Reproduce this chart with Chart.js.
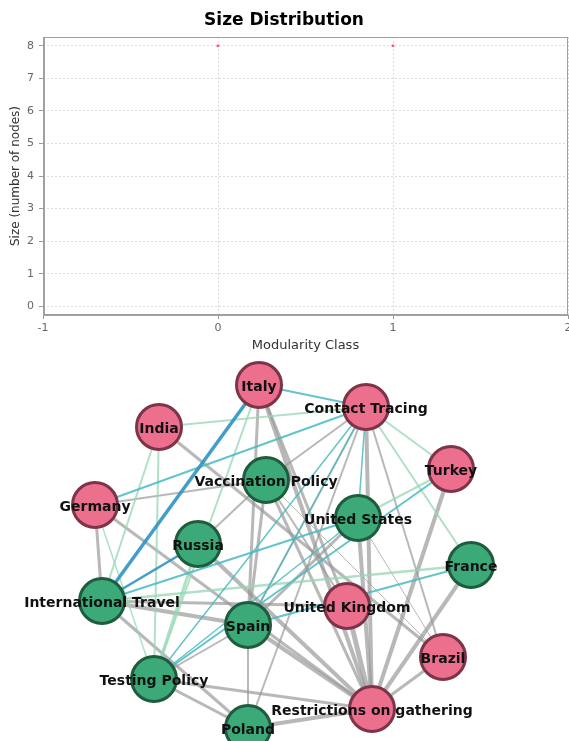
<!DOCTYPE html>
<html>
<head>
<meta charset="utf-8">
<script src="https://cdn.jsdelivr.net/npm/chart.js@4.4.1/dist/chart.umd.min.js"></script>
<style>
  html, body { margin: 0; padding: 0; background: #fff; overflow: hidden; }
  #wrap { position: relative; width: 569px; height: 741px; overflow: hidden; }
  #sizeChart { position: absolute; left: 0; top: 0; }
  #netChart { position: absolute; left: 0; top: 356px; }
</style>
</head>
<body>
<div id="wrap">
  <canvas id="sizeChart" width="600" height="356"></canvas>
  <canvas id="netChart" width="569" height="385"></canvas>
</div>
<script>
// --- size distribution data ---
const modularityClass = [0, 1];
const classSize = [8, 8];
const xTicks = [-1, 0, 1, 2];
const yTicks = [0, 1, 2, 3, 4, 5, 6, 7, 8];

// --- network data (layout coordinates) ---
const nodeNames = ["Italy", "Contact Tracing", "India", "Turkey", "Germany", "Vaccination Policy",
  "United States", "Russia", "France", "International Travel", "Spain", "United Kingdom",
  "Brazil", "Testing Policy", "Poland", "Restrictions on gathering"];
const nodeX = [259, 366, 159, 451, 95, 266, 358, 198, 471, 102, 248, 347, 443, 154, 248, 372];
const nodeY = [385, 407, 427, 469, 505, 480, 518, 544, 565, 601, 625, 606, 657, 679, 728, 709];
const nodeGroup = ["A", "A", "A", "A", "A", "B", "B", "B", "B", "B", "B", "A", "A", "B", "B", "A"];

const edgeSource = [
  "Italy", "Russia", "Italy", "Germany", "International Travel", "Spain", "Turkey",
  "Contact Tracing", "Contact Tracing", "Contact Tracing", "Testing Policy",
  "India", "India", "India", "Italy", "Germany", "Turkey", "Contact Tracing", "Contact Tracing",
  "International Travel", "Russia",
  "Italy", "Italy", "India", "Germany", "Germany", "Germany", "Vaccination Policy", "Vaccination Policy",
  "Vaccination Policy", "Vaccination Policy", "Vaccination Policy", "International Travel",
  "International Travel", "International Travel", "Russia", "Spain", "Spain", "Spain", "Spain",
  "Testing Policy", "Poland", "Contact Tracing", "Contact Tracing", "United States", "United States",
  "United Kingdom", "Turkey", "France", "Brazil", "Contact Tracing", "Vaccination Policy", "Italy",
  "United States", "Testing Policy"];
const edgeTarget = [
  "International Travel", "International Travel", "Contact Tracing", "Contact Tracing", "United States", "France", "Testing Policy",
  "United States", "Spain", "Testing Policy", "United States",
  "Contact Tracing", "International Travel", "Testing Policy", "Testing Policy", "Testing Policy", "United States", "France", "Turkey",
  "France", "Testing Policy",
  "Spain", "Restrictions on gathering", "Brazil", "International Travel", "Vaccination Policy", "Restrictions on gathering", "Spain", "Contact Tracing",
  "Russia", "Restrictions on gathering", "Brazil", "Spain",
  "United Kingdom", "Poland", "Restrictions on gathering", "Restrictions on gathering", "Poland", "Testing Policy", "Contact Tracing",
  "Restrictions on gathering", "Restrictions on gathering", "Restrictions on gathering", "Poland", "Restrictions on gathering", "Spain",
  "Restrictions on gathering", "Restrictions on gathering", "Restrictions on gathering", "Restrictions on gathering", "Brazil", "United Kingdom", "United Kingdom",
  "Brazil", "Poland"];
const edgeKind = [
  "blue", "blue", "teal", "teal", "teal", "teal", "teal",
  "teal", "teal", "teal", "teal",
  "green", "green", "green", "green", "green", "green", "green", "green",
  "green", "green",
  "gray", "gray", "gray", "gray", "gray", "gray", "gray", "gray",
  "gray", "gray", "gray", "gray",
  "gray", "gray", "gray", "gray", "gray", "gray", "gray",
  "gray", "gray", "gray", "gray", "gray", "gray",
  "gray", "gray", "gray", "gray", "gray", "gray", "gray",
  "gray", "gray"];
const edgeWeight = [
  3.5, 2.5, 2, 2, 2, 2, 2,
  1.5, 1.5, 1.5, 1.5,
  2, 2, 2, 2, 1.5, 2, 2, 2,
  2.5, 3,
  3, 4, 3, 3, 2, 3, 3, 2,
  2, 3, 1, 4,
  3, 3, 4, 4, 2, 2, 2,
  3, 4, 4, 2, 4, 3,
  5, 4, 4, 3, 2, 2, 3,
  1, 3];

const edgeColors = {
  blue: "rgba(50, 150, 196, 0.92)",
  teal: "rgba(72, 186, 192, 0.85)",
  green: "rgba(150, 215, 180, 0.75)",
  gray: "rgba(150, 150, 150, 0.68)",
};

// --- top chart ---
const plotFrame = {
  id: "plotFrame",
  beforeDatasetsDraw(chart) {
    const { ctx, chartArea: a } = chart;
    ctx.save();
    ctx.strokeStyle = "#a0a0a0";
    ctx.lineWidth = 1;
    ctx.strokeRect(a.left + 0.5, a.top + 0.5, a.right - a.left - 1, a.bottom - a.top - 1);
    ctx.lineWidth = 2;
    ctx.beginPath();
    ctx.moveTo(a.left + 1, a.top);
    ctx.lineTo(a.left + 1, a.bottom);
    ctx.lineTo(a.right, a.bottom);
    ctx.stroke();
    ctx.restore();
  },
};

new Chart(document.getElementById("sizeChart"), {
  type: "scatter",
  data: {
    datasets: [{
      data: modularityClass.map((c, i) => ({ x: c, y: classSize[i] })),
      pointStyle: "rect",
      pointRadius: 1.8,
      backgroundColor: "#e8607a",
      borderColor: "#e8607a",
      borderWidth: 0,
    }],
  },
  options: {
    responsive: false,
    animation: false,
    layout: { padding: { left: 0, right: 32, top: 0, bottom: 0 } },
    plugins: {
      legend: { display: false },
      tooltip: { enabled: false },
      title: {
        display: true,
        text: "Size Distribution",
        color: "#000",
        font: { family: "DejaVu Sans", size: 17, weight: "bold", lineHeight: 1.2 },
        padding: { top: 10, bottom: 6.6 },
      },
    },
    scales: {
      x: {
        type: "linear",
        min: -1,
        max: 2,
        afterBuildTicks: (s) => { s.ticks = xTicks.map((v) => ({ value: v })); },
        afterFit: (s) => { s.height = 41; },
        ticks: { color: "#666", font: { family: "DejaVu Sans", size: 11 }, padding: 3 },
        grid: { color: "#dcdcdc", tickLength: 4, tickColor: "#999" },
        border: { display: false, dash: [2, 2] },
        title: {
          display: true,
          text: "Modularity Class",
          color: "#333",
          font: { family: "DejaVu Sans", size: 13, lineHeight: 1.2 },
          padding: { top: 0, bottom: 3 },
        },
      },
      y: {
        type: "linear",
        min: -0.27,
        max: 8.27,
        afterBuildTicks: (s) => { s.ticks = yTicks.map((v) => ({ value: v })); },
        afterFit: (s) => { s.width = 43; },
        ticks: { color: "#666", font: { family: "DejaVu Sans", size: 11 }, padding: 5 },
        grid: { color: "#dcdcdc", tickLength: 4, tickColor: "#999" },
        border: { display: false, dash: [2, 2] },
        title: {
          display: true,
          text: "Size (number of nodes)",
          color: "#333",
          font: { family: "DejaVu Sans", size: 12, lineHeight: 1.2 },
          padding: { top: 9, bottom: 0 },
        },
      },
    },
  },
  plugins: [plotFrame],
});

// --- network chart ---
const nodeLabels = {
  id: "nodeLabels",
  afterDatasetsDraw(chart) {
    const { ctx, scales: { x, y } } = chart;
    ctx.save();
    ctx.font = "bold 14px 'DejaVu Sans'";
    ctx.fillStyle = "#111";
    ctx.textAlign = "center";
    ctx.textBaseline = "middle";
    nodeNames.forEach((name, i) => {
      ctx.fillText(name, x.getPixelForValue(nodeX[i]), y.getPixelForValue(nodeY[i]) + 2);
    });
    ctx.restore();
  },
};

const edgeSets = edgeSource.map((src, i) => {
  const a = nodeNames.indexOf(src);
  const b = nodeNames.indexOf(edgeTarget[i]);
  return {
    data: [{ x: nodeX[a], y: nodeY[a] }, { x: nodeX[b], y: nodeY[b] }],
    showLine: true,
    borderColor: edgeColors[edgeKind[i]],
    borderWidth: edgeWeight[i],
    pointRadius: 0,
    order: edgeKind[i] === "gray" ? 2 : 1,
  };
});

new Chart(document.getElementById("netChart"), {
  type: "scatter",
  data: {
    datasets: [
      {
        data: nodeNames.map((n, i) => ({ x: nodeX[i], y: nodeY[i] })),
        pointRadius: 22.5,
        borderWidth: 3,
        backgroundColor: nodeGroup.map((g) => (g === "A" ? "#ec6f8e" : "#3caa78")),
        borderColor: nodeGroup.map((g) => (g === "A" ? "#7d3348" : "#1f5c3e")),
        order: 0,
      },
      ...edgeSets,
    ],
  },
  options: {
    responsive: false,
    animation: false,
    layout: { padding: 0, autoPadding: false },
    plugins: { legend: { display: false }, tooltip: { enabled: false }, title: { display: false } },
    scales: {
      x: { type: "linear", min: 0, max: 569, display: false },
      y: { type: "linear", min: 356, max: 741, reverse: true, display: false },
    },
  },
  plugins: [nodeLabels],
});
</script>
</body>
</html>
